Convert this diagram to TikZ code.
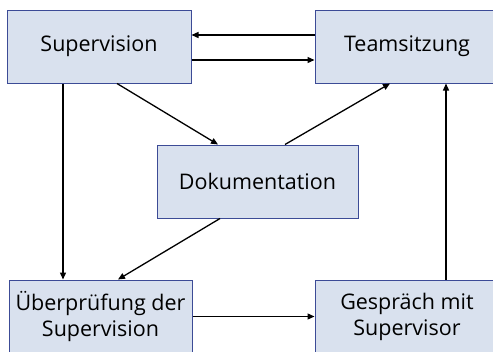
\documentclass[tikz,border=0pt]{standalone}
\usepackage{fontspec}
\setmainfont{Open Sans}
\usepackage{xcolor}
\definecolor{boxFill}{HTML}{D9E1EE}
\definecolor{boxBlue}{HTML}{3C4B96}
\usepackage{tikz}
\usetikzlibrary{arrows.meta, positioning}

\begin{document}
\begin{tikzpicture}[
		x=1pt, y=-1pt,
		every node/.style={
			draw=boxBlue,
			fill=boxFill,
			line width=1pt,
			minimum width=184pt,
			minimum height=73pt,
			align=center,
			inner sep=2pt,
			font=\fontsize{21.5}{26}\selectfont
		},
		arrow/.style={-{Triangle[length=7pt,width=6pt]}, line width=1.3pt}
		]
		\useasboundingbox (0,0) rectangle (493,351);
		
		\node (super) at (99,46.5) {Supervision};
		\node (team) at (407,46.5) {Teamsitzung};
		\node[minimum width=201pt] (doku) at (257.5,181.5) {Dokumentation};
		\node[minimum width=183pt] (pruef) at (100.5,316.5) {Überprüfung der\\Supervision};
		\node (gespr) at (407,316.5) {Gespräch mit\\Supervisor};
		
		\draw[arrow] ([yshift=11.5pt]team.west) -- ([yshift=11.5pt]super.east);
		\draw[arrow] ([yshift=-13.5pt]super.east) -- ([yshift=-13.5pt]team.west);
		\draw[arrow] ([xshift=-36pt]super.south) -- ([xshift=-37.5pt]pruef.north);
		\draw[arrow] ([xshift=18pt]super.south) -- ([xshift=-39.5pt]doku.north);
		\draw[arrow] ([xshift=27.5pt]doku.north) -- ([xshift=-17pt]team.south);
		\draw[arrow] ([xshift=-37.5pt]doku.south) -- ([xshift=17.5pt]pruef.north);
		\draw[arrow] (pruef.east) -- (gespr.west);
		\draw[arrow] ([xshift=39pt]gespr.north) -- ([xshift=39pt]team.south);
		
	\end{tikzpicture}
\end{document}
